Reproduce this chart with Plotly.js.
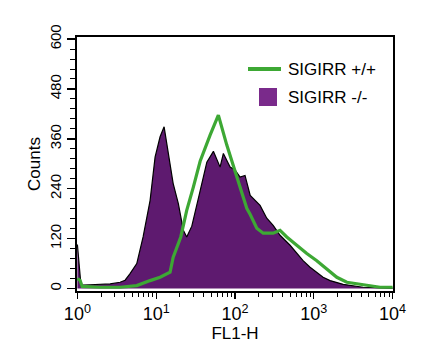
<!DOCTYPE html>
<html>
<head>
<meta charset="utf-8">
<script src="https://cdn.plot.ly/plotly-3.0.1.min.js"></script>
<style>html,body{margin:0;padding:0;background:#fff;}#chart{width:433px;height:349px;}</style>
</head>
<body>
<div id="chart"></div>
<script>
// SIGIRR -/- (filled purple histogram): FL1-H channel value and counts
var koFL1 = [1.0, 1.05, 1.11, 1.45, 1.94, 2.60, 3.48, 4.03, 4.66, 5.67, 6.82, 8.37, 9.68, 11.2, 12.6, 14.2, 16.4, 19.1, 22.1, 24.4, 28.3, 36.1, 43.9, 53.2, 64.7, 71.2, 86.7, 100, 116, 134, 156, 208, 253, 305, 373, 500, 608, 731, 897, 1091, 1312, 1610, 2355, 4227, 10000];
var koCounts = [106, 60, 8, 9, 10, 11, 15, 20, 36, 60, 124, 212, 316, 365, 389, 325, 253, 204, 140, 124, 150, 235, 304, 330, 292, 325, 292, 285, 268, 272, 224, 200, 169, 152, 128, 104, 84, 67, 51, 39, 27, 19, 10, 3, 1];

// SIGIRR +/+ (green line histogram)
var wtFL1 = [1.0, 1.08, 1.15, 1.94, 3.48, 5.67, 8.37, 11.2, 15.0, 16.4, 20.5, 24.4, 29.6, 36.1, 48.3, 61.5, 78.7, 95.4, 116, 141, 156, 189, 228, 305, 373, 454, 608, 815, 1091, 1462, 1959, 2624, 4227, 6930, 10000];
var wtCounts = [24, 20, 5, 3, 3, 7, 19, 27, 39, 75, 124, 188, 244, 306, 369, 417, 345, 296, 241, 193, 178, 145, 133, 133, 140, 124, 104, 84, 67, 47, 27, 15, 10, 3, 3];

var seriesNames = ['SIGIRR +/+', 'SIGIRR -/-'];
var xTickVals = [1, 10, 100, 1000, 10000];
var xTickText = ['10<sup>0</sup>', '10<sup>1</sup>', '10<sup>2</sup>', '10<sup>3</sup>', '10<sup>4</sup>'];
var yTickVals = [0, 120, 240, 360, 480, 600];

var purple = '#5e1a6f';
var green = '#3da834';
var font = 'Liberation Sans, Arial, sans-serif';

var traces = [
  {
    x: koFL1, y: koCounts, name: seriesNames[1], type: 'scatter', mode: 'lines',
    fill: 'tozeroy', fillcolor: purple,
    line: {color: '#000', width: 1.2, shape: 'linear'},
    showlegend: false, hoverinfo: 'skip'
  },
  {
    x: wtFL1, y: wtCounts, name: seriesNames[0], type: 'scatter', mode: 'lines',
    line: {color: green, width: 3.2, shape: 'linear'},
    showlegend: false, hoverinfo: 'skip'
  }
];

var layout = {
  width: 433, height: 349,
  margin: {l: 77, r: 40, t: 37, b: 58, pad: 0},
  paper_bgcolor: '#fff', plot_bgcolor: '#fff',
  font: {family: font, color: '#000'},
  showlegend: false,
  xaxis: {
    type: 'log', range: [-0.005, 4.005],
    tickvals: xTickVals, ticktext: xTickText,
    ticks: 'outside', ticklen: 6, tickwidth: 1.3, tickcolor: '#000',
    minor: {ticks: 'outside', ticklen: 4, tickwidth: 1, tickcolor: '#000', dtick: 'D1', showgrid: false},
    showline: true, linecolor: '#000', linewidth: 1.8, mirror: true,
    showgrid: false, zeroline: false,
    tickfont: {size: 18, family: font},
    title: {text: 'FL1-H', font: {size: 17, family: font}, standoff: 2}
  },
  yaxis: {
    range: [-6, 605],
    tickvals: yTickVals, tickangle: -90,
    ticks: 'outside', ticklen: 8, tickwidth: 1.3, tickcolor: '#000',
    minor: {ticks: 'outside', ticklen: 5, tickwidth: 1, tickcolor: '#000', dtick: 24, showgrid: false},
    showline: true, linecolor: '#000', linewidth: 1.8, mirror: true,
    showgrid: false, zeroline: false,
    tickfont: {size: 15, family: font},
    title: {text: 'Counts', font: {size: 17, family: font}, standoff: 2}
  },
  shapes: [
    {type: 'line', xref: 'paper', yref: 'paper', x0: (248 - 77) / 316, x1: (281 - 77) / 316, y0: (291 - 69) / 254, y1: (291 - 69) / 254, line: {color: green, width: 4}},
    {type: 'rect', xref: 'paper', yref: 'paper', x0: (259 - 77) / 316, x1: (277 - 77) / 316, y0: (291 - 106) / 254, y1: (291 - 88) / 254, fillcolor: '#7a2a8b', line: {width: 0}}
  ],
  annotations: [
    {xref: 'paper', yref: 'paper', x: (286 - 77) / 316, y: (291 - 69) / 254, xanchor: 'left', yanchor: 'middle', text: seriesNames[0], showarrow: false, font: {size: 17, family: font, color: '#000'}},
    {xref: 'paper', yref: 'paper', x: (286 - 77) / 316, y: (291 - 97) / 254, xanchor: 'left', yanchor: 'middle', text: seriesNames[1], showarrow: false, font: {size: 17, family: font, color: '#000'}}
  ]
};

Plotly.newPlot('chart', traces, layout, {staticPlot: true, displayModeBar: false});
</script>
</body>
</html>
